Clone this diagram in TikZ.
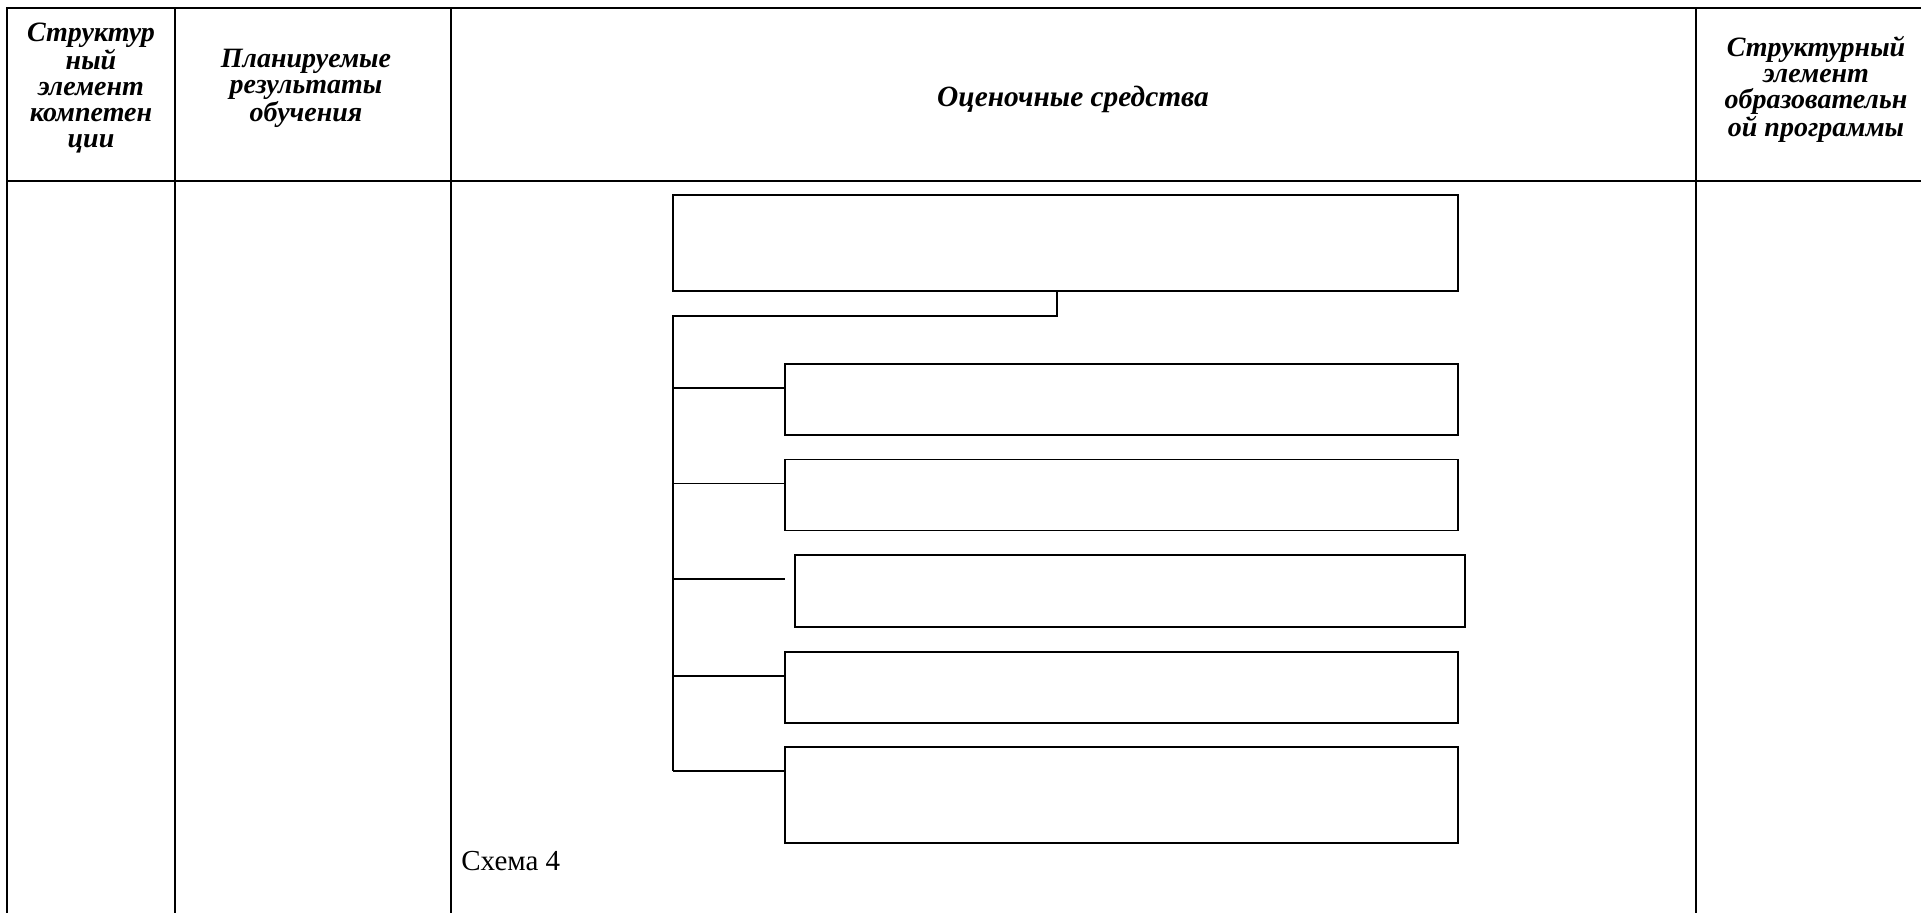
\documentclass[tikz,border=0pt]{standalone}
\usepackage{fontspec}
\setmainfont{Liberation Serif}
\usetikzlibrary{calc}

\tikzset{
  rule/.style={line width=1pt},
  blank/.style={draw, line width=0.65pt, inner sep=0pt, outer sep=0pt, minimum width=336.5pt},
  link/.style={line width=0.65pt},
  head/.style={align=center, font=\fontsize{14}{13}\selectfont\bfseries\itshape}
}

\begin{document}
\begin{tikzpicture}[x=0.5pt, y=-0.5pt]
        \useasboundingbox (0,0) rectangle (1921,913);

        % Draw the table frame
        \draw[rule] (7,913) -- (7,8) -- (1921,8);
        \draw[rule] (7,181) -- (1921,181);
        \foreach \xc in {175,451,1696}
            \draw[rule] (\xc,8) -- (\xc,913);

        % Header texts
        \node[head] (h1) at (91,88) {Структур\\ный\\элемент\\компетен\\ции};
        \node[head] (h2) at (306,88) {Планируемые\\результаты\\обучения};
        \node[head, font=\fontsize{14.7}{13}\selectfont\bfseries\itshape] (h3) at (1073,99) {Оценочные средства};
        \node[head] (h4) at (1816,89) {Структурный\\элемент\\образовательн\\ой программы};

        % Draw the empty boxes of the scheme
        \node[blank, minimum width=392.5pt, minimum height=48pt] (top) at (1065.5,243) {};
        \node[blank, minimum height=35.5pt] (b1) at (1121.5,399.5) {};
        \node[blank, minimum height=35.5pt] (b2) at (1121.5,495) {};
        \node[blank, minimum width=335pt, minimum height=36pt] (b3) at (1130,591) {};
        \node[blank, minimum height=35.5pt] (b4) at (1121.5,687.5) {};
        \node[blank, minimum height=48pt] (b5) at (1121.5,795) {};

        % Trunk and branches
        \coordinate (trunk) at (673,316);
        \draw[link] ($(top.south)+(-8.5,0)$) |- (trunk) -- (trunk |- {$(b5.north west)+(0,24)$});
        \foreach \b in {b1,b2,b4,b5}
            \draw[link] (trunk |- {$(\b.north west)+(0,24)$}) -- ($(\b.north west)+(0,24)$);
        \draw[link] (trunk |- {$(b3.north west)+(0,24)$}) -- ($(b3.north west)+(-10,24)$);

        \node[anchor=base west, font=\fontsize{14.5}{16}\selectfont, inner sep=0pt] (cap) at (461,870) {Схема 4};

\end{tikzpicture}
\end{document}
